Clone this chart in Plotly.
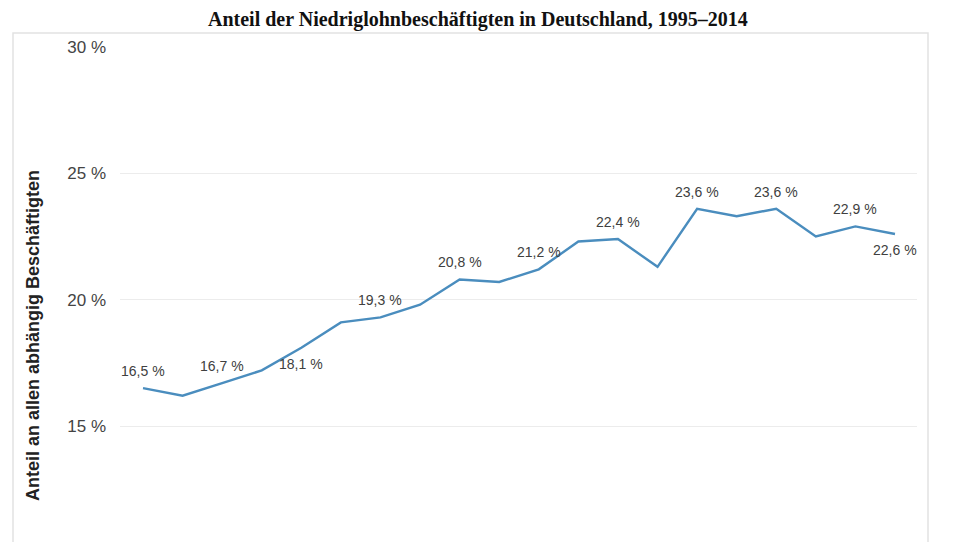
import plotly.graph_objects as go

years = list(range(1995, 2015))
share = [16.5, 16.2, 16.7, 17.2, 18.1, 19.1, 19.3, 19.8, 20.8, 20.7,
         21.2, 22.3, 22.4, 21.3, 23.6, 23.3, 23.6, 22.5, 22.9, 22.6]
label_years = [1995, 1997, 1999, 2001, 2003, 2005, 2007, 2009, 2011, 2013, 2014]
label_pos = ["above", "above", "below", "above", "above", "above", "above",
             "above", "above", "above", "below"]
y_ticks = [15, 20, 25, 30]
y_ticklabels = ["15 %", "20 %", "25 %", "30 %"]
title_text = "Anteil der Niedriglohnbeschäftigten in Deutschland, 1995–2014"
y_title = "Anteil an allen abhängig Beschäftigten"

# page body has an 8px margin; work in screen pixels and shift
OFF = 8
W, H = 960 - OFF, 542 - OFF
PLOT_L, PLOT_R, PLOT_T, PLOT_B = 120, 917, 47, 542   # screen px
L, R, T, B = PLOT_L - OFF, W - (PLOT_R - OFF), PLOT_T - OFF, 0
pw, ph = W - L - R, H - T - B


def px_x(p):
    return (p - OFF - L) / pw


def px_y(p):
    return (H - B - (p - OFF)) / ph


PX_PER_PCT = (426 - 47) / 15.0
PX_PER_YEAR = (895 - 143) / 19.0
x_range = [years[0] - (143 - PLOT_L) / PX_PER_YEAR,
           years[-1] + (PLOT_R - 895) / PX_PER_YEAR]
y_range = [30 - (PLOT_B - PLOT_T) / PX_PER_PCT, 30]

fig = go.Figure()
fig.add_trace(go.Scatter(
    x=years, y=share, mode="lines",
    line=dict(color="#4a8dbe", width=2.4),
    hoverinfo="skip", showlegend=False,
))

annotations = []
for yr, pos in zip(label_years, label_pos):
    v = share[years.index(yr)]
    txt = f"{v:.1f}".replace(".", ",") + " %"
    annotations.append(dict(
        x=yr, y=v, xref="x", yref="y", text=txt, showarrow=False,
        yshift=17 if pos == "above" else -16,
        font=dict(family="Arial, Liberation Sans", size=14, color="#404040"),
    ))

annotations.append(dict(
    x=px_x(33), y=px_y(336), xref="paper", yref="paper",
    text="<b>" + y_title + "</b>",
    textangle=-90, showarrow=False, xanchor="center", yanchor="middle",
    font=dict(family="Arial, Liberation Sans", size=18, color="#222222"),
))
annotations.append(dict(
    x=px_x(478), y=px_y(19), xref="paper", yref="paper",
    text="<b>" + title_text + "</b>", showarrow=False,
    xanchor="center", yanchor="middle",
    font=dict(family="Liberation Serif, Times New Roman", size=20, color="#111111"),
))

fig.update_layout(
    width=W, height=H,
    margin=dict(l=L, r=R, t=T, b=B, autoexpand=False),
    paper_bgcolor="white", plot_bgcolor="white",
    annotations=annotations,
    shapes=[dict(type="rect", xref="paper", yref="paper",
                 x0=px_x(13), x1=px_x(928), y0=px_y(560), y1=px_y(33),
                 line=dict(color="#e2e2e2", width=1.5), layer="below")],
    xaxis=dict(range=x_range, showgrid=False, zeroline=False,
               showticklabels=False, showline=False, ticks=""),
    yaxis=dict(range=y_range, tickvals=y_ticks, ticktext=y_ticklabels,
               showgrid=True, gridcolor="#ececec", gridwidth=1,
               zeroline=False, showline=False, ticks="",
               ticklabelstandoff=13,
               tickfont=dict(family="Arial, Liberation Sans", size=17, color="#444444")),
)

fig.write_html("out.html")
